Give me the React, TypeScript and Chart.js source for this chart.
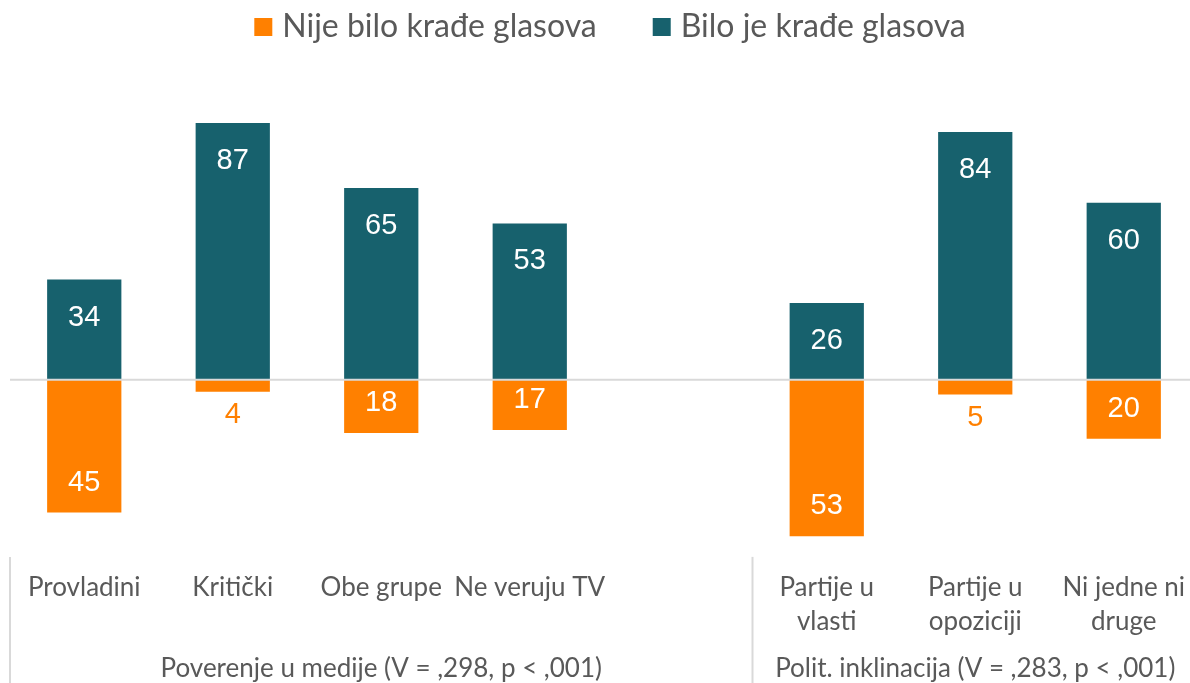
import React, { useEffect, useRef } from "react";
import { Chart, registerables } from "chart.js";

Chart.register(...registerables);

const categories: (string | string[])[] = [
  "Provladini",
  "Kritički",
  "Obe grupe",
  "Ne veruju TV",
  "",
  ["Partije u", "vlasti"],
  ["Partije u", "opoziciji"],
  ["Ni jedne ni", "druge"],
];
const noTheft: (number | null)[] = [45, 4, 18, 17, null, 53, 5, 20];
const theft: (number | null)[] = [34, 87, 65, 53, null, 26, 84, 60];
const seriesNames = ["Nije bilo krađe glasova", "Bilo je krađe glasova"];
const groupNames = [
  "Poverenje u medije (V = ,298, p < ,001)",
  "Polit. inklinacija (V = ,283, p < ,001)",
];
const groupSpans = [
  [0, 4],
  [5, 7],
];

const ORANGE = "#FF8000";
const TEAL = "#17616D";
const TEXT = "#595959";
const GRID = "#D9D9D9";
const FONT = "Lato, 'Open Sans', sans-serif";

export default function App() {
  const ref = useRef<HTMLCanvasElement | null>(null);

  useEffect(() => {
    if (!ref.current) return;
    document.body.style.margin = "0";
    document.body.style.overflow = "hidden";

    const extras = {
      id: "extras",
      afterDatasetsDraw(chart: any) {
        const ctx = chart.ctx;
        const area = chart.chartArea;
        const y = chart.scales.y;
        const x = chart.scales.x;
        // zero line
        const y0 = y.getPixelForValue(0);
        ctx.save();
        ctx.strokeStyle = GRID;
        ctx.lineWidth = 2;
        ctx.beginPath();
        ctx.moveTo(area.left, y0);
        ctx.lineTo(area.right, y0);
        ctx.stroke();

        // data labels
        ctx.font = `29px 'Liberation Sans', Arial, sans-serif`;
        ctx.textAlign = "center";
        ctx.textBaseline = "middle";
        chart.data.datasets.forEach((ds: any, di: number) => {
          const meta = chart.getDatasetMeta(di);
          meta.data.forEach((el: any, i: number) => {
            const raw = ds.data[i];
            if (raw === null || raw === undefined) return;
            const v = Math.abs(raw);
            const neg = raw < 0;
            if (v >= 10) {
              ctx.fillStyle = "#FFFFFF";
              ctx.fillText(String(v), el.x, neg ? el.y - 30 : el.y + 38);
            } else {
              ctx.fillStyle = neg ? ORANGE : TEAL;
              ctx.fillText(String(v), el.x, neg ? el.y + 23 : el.y - 23);
            }
          });
        });

        // group separators and labels
        const half = (x.getPixelForValue(1) - x.getPixelForValue(0)) / 2;
        ctx.strokeStyle = GRID;
        ctx.lineWidth = 2;
        ctx.font = `26px ${FONT}`;
        ctx.fillStyle = TEXT;
        groupSpans.forEach((span, gi) => {
          const left = x.getPixelForValue(span[0]) - half;
          const right = x.getPixelForValue(span[1]) + half;
          ctx.beginPath();
          ctx.moveTo(left, area.bottom);
          ctx.lineTo(left, chart.height);
          ctx.stroke();
          ctx.fillText(groupNames[gi], (left + right) / 2, 669);
        });

        // legend
        ctx.font = `32px ${FONT}`;
        const box = 18;
        const gapText = 10;
        const gapItem = 56;
        const widths = seriesNames.map((s) => ctx.measureText(s).width);
        const total =
          widths.reduce((a, b) => a + b, 0) + 2 * (box + gapText) + gapItem;
        let cx = 610 - total / 2;
        const ly = 27;
        ctx.textAlign = "left";
        chart.data.datasets.forEach((ds: any, di: number) => {
          ctx.fillStyle = ds.backgroundColor;
          ctx.fillRect(cx, ly - box / 2, box, box);
          cx += box + gapText;
          ctx.fillStyle = TEXT;
          ctx.fillText(ds.label, cx, ly);
          cx += widths[di] + gapItem;
        });
        ctx.restore();
      },
    };

    const chart = new Chart(ref.current, {
      type: "bar",
      data: {
        labels: categories,
        datasets: [
          {
            label: seriesNames[0],
            data: noTheft.map((v) => (v === null ? null : -v)),
            backgroundColor: ORANGE,
            categoryPercentage: 1,
            barPercentage: 0.5,
          },
          {
            label: seriesNames[1],
            data: theft,
            backgroundColor: TEAL,
            categoryPercentage: 1,
            barPercentage: 0.5,
          },
        ],
      },
      options: {
        responsive: false,
        animation: false,
        devicePixelRatio: 1,
        layout: { padding: { left: 10, right: 0, top: 70, bottom: 38 } },
        plugins: {
          legend: { display: false },
          tooltip: { enabled: false },
        },
        scales: {
          x: {
            stacked: true,
            offset: true,
            grid: { display: false },
            border: { display: false },
            ticks: {
              autoSkip: false,
              maxRotation: 0,
              minRotation: 0,
              padding: 6,
              color: TEXT,
              font: { family: FONT, size: 26, lineHeight: 1.31 },
            },
          },
          y: {
            display: false,
            stacked: true,
            min: -60,
            max: 105,
          },
        },
      },
      plugins: [extras],
    });
    return () => chart.destroy();
  }, []);

  return (
    <div
      style={{
        position: "fixed",
        left: 0,
        top: 0,
        width: 1190,
        height: 683,
        overflow: "hidden",
        background: "#fff",
      }}
    >
      <canvas ref={ref} width={1198} height={683} style={{ width: 1198, height: 683 }} />
    </div>
  );
}
